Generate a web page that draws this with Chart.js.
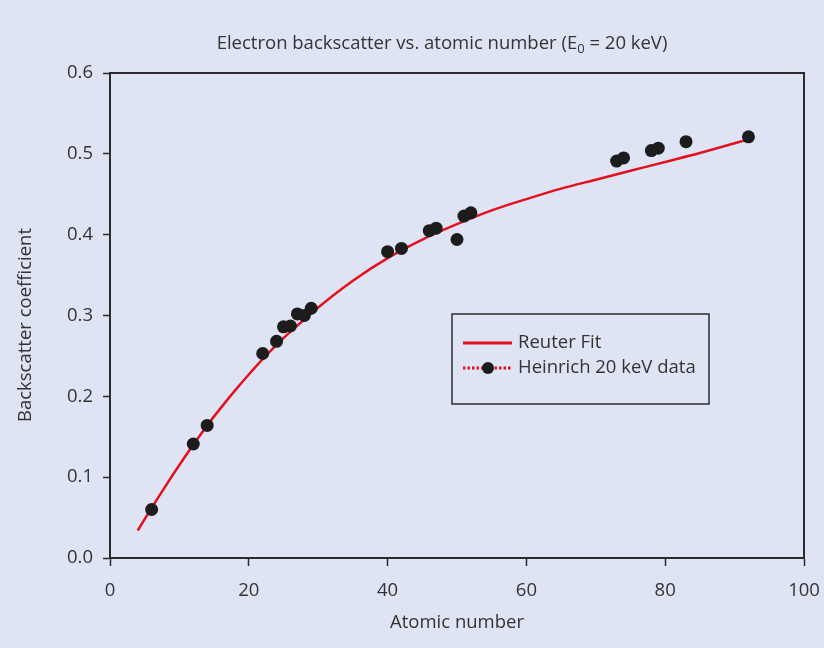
<!DOCTYPE html>
<html>
<head>
<meta charset="utf-8">
<title>Electron backscatter vs. atomic number</title>
<script src="https://cdn.jsdelivr.net/npm/chart.js@4/dist/chart.umd.min.js"></script>
<style>
  html, body { margin: 0; padding: 0; background: #dfe4f4; }
  #wrap { width: 824px; height: 648px; }
</style>
</head>
<body>
<div id="wrap"><canvas id="chart" width="824" height="648"></canvas></div>
<script>
// ── Data ─────────────────────────────────────────────────────
// Reuter fit curve
const fitZ   = [4, 6, 8, 10, 12, 14, 16, 18, 20, 22, 25, 28, 30, 35, 40, 45, 50, 55, 60, 65, 70, 75, 80, 85, 90, 92];
const fitEta = [0.034, 0.062, 0.089, 0.115, 0.140, 0.164, 0.186, 0.207, 0.227, 0.246, 0.272, 0.295, 0.310, 0.343,
                0.371, 0.394, 0.413, 0.430, 0.444, 0.457, 0.468, 0.479, 0.490, 0.501, 0.513, 0.518];

// Heinrich 20 keV measurements
const dataZ   = [6, 12, 14, 22, 24, 25, 26, 27, 28, 29, 40, 42, 46, 47, 50, 51, 52, 73, 74, 78, 79, 83, 92];
const dataEta = [0.060, 0.141, 0.164, 0.253, 0.268, 0.286, 0.287, 0.302, 0.300, 0.309, 0.379, 0.383, 0.405,
                 0.408, 0.394, 0.423, 0.427, 0.491, 0.495, 0.504, 0.507, 0.515, 0.521];

const xTicks = [0, 20, 40, 60, 80, 100];
const yTicks = [0, 0.1, 0.2, 0.3, 0.4, 0.5, 0.6];

const RED = '#e3111d';
const DOT = '#1c1c1c';
const INK = '#2b2b2b';
const TEXT = '#333333';
const FONT = "'Open Sans', sans-serif";
const FS = 18.5;

const zip = (xs, ys) => xs.map((x, i) => ({ x, y: ys[i] }));

// ── Title, y-axis title, frame and legend ────────────────────
const decorations = {
    id: 'decorations',
    afterDraw(chart) {
        const ctx = chart.ctx;
        const ca = chart.chartArea;
        ctx.save();

        // frame round the plot
        ctx.strokeStyle = INK;
        ctx.lineWidth = 2;
        ctx.strokeRect(ca.left, ca.top, ca.right - ca.left, ca.bottom - ca.top);

        // title with subscript
        ctx.fillStyle = TEXT;
        ctx.textBaseline = 'alphabetic';
        ctx.textAlign = 'left';
        const big = `${FS}px ${FONT}`, small = `${Math.round(FS * 0.72)}px ${FONT}`;
        const p1 = 'Electron backscatter vs. atomic number (E', p2 = '0', p3 = ' = 20 keV)';
        ctx.font = big;
        const w1 = ctx.measureText(p1).width, w3 = ctx.measureText(p3).width;
        ctx.font = small;
        const w2 = ctx.measureText(p2).width;
        let tx = 442 - (w1 + w2 + w3) / 2;
        const ty = 49;
        ctx.font = big;  ctx.fillText(p1, tx, ty); tx += w1;
        ctx.font = small; ctx.fillText(p2, tx, ty + 4); tx += w2;
        ctx.font = big;  ctx.fillText(p3, tx, ty);

        // y-axis title
        ctx.save();
        ctx.translate(26, 325);
        ctx.rotate(-Math.PI / 2);
        ctx.textAlign = 'center';
        ctx.textBaseline = 'middle';
        ctx.font = big;
        ctx.fillText('Backscatter coefficient', 0, 0);
        ctx.restore();

        // legend box
        const lx = ca.left + 342, ly = ca.top + 241;
        ctx.lineWidth = 1.5;
        ctx.strokeStyle = INK;
        ctx.strokeRect(lx, ly, 257, 90);

        ctx.strokeStyle = RED;
        ctx.lineWidth = 3;
        ctx.beginPath();
        ctx.moveTo(lx + 11, ly + 29); ctx.lineTo(lx + 60, ly + 29);
        ctx.stroke();

        ctx.setLineDash([2.5, 2]);
        ctx.beginPath();
        ctx.moveTo(lx + 11, ly + 54); ctx.lineTo(lx + 60, ly + 54);
        ctx.stroke();
        ctx.setLineDash([]);
        ctx.fillStyle = DOT;
        ctx.beginPath();
        ctx.arc(lx + 36, ly + 54, 6, 0, Math.PI * 2);
        ctx.fill();

        ctx.fillStyle = TEXT;
        ctx.textAlign = 'left';
        ctx.textBaseline = 'middle';
        ctx.font = big;
        ctx.fillText('Reuter Fit', lx + 66, ly + 29);
        ctx.fillText('Heinrich 20 keV data', lx + 66, ly + 54);

        ctx.restore();
    }
};

// ── Chart ────────────────────────────────────────────────────
new Chart(document.getElementById('chart'), {
    type: 'scatter',
    data: {
        datasets: [
            {
                label: 'Reuter Fit',
                data: zip(fitZ, fitEta),
                showLine: true,
                borderColor: RED,
                borderWidth: 2.5,
                pointRadius: 0,
                pointHoverRadius: 0,
                cubicInterpolationMode: 'monotone',
                order: 2
            },
            {
                label: 'Heinrich 20 keV data',
                data: zip(dataZ, dataEta),
                showLine: false,
                backgroundColor: DOT,
                borderWidth: 0,
                pointRadius: 6.5,
                order: 1
            }
        ]
    },
    options: {
        responsive: false,
        animation: false,
        layout: { padding: { top: 73, right: 20, left: 0, bottom: 0 } },
        plugins: {
            legend: { display: false },
            tooltip: { enabled: false }
        },
        scales: {
            x: {
                type: 'linear',
                min: xTicks[0], max: xTicks[xTicks.length - 1],
                afterBuildTicks: s => { s.ticks = xTicks.map(v => ({ value: v })); },
                afterFit: s => { s.height = 90; s.paddingLeft = 0; s.paddingRight = 0; },
                border: { display: true, color: INK, width: 2 },
                grid: { drawOnChartArea: false, drawTicks: true, tickLength: 8, color: INK, tickWidth: 1.5 },
                ticks: { color: TEXT, font: { family: FONT, size: FS }, padding: 14, maxRotation: 0 },
                title: {
                    display: true, text: 'Atomic number', color: TEXT,
                    font: { family: FONT, size: FS }, padding: { top: 0, bottom: 14 }
                }
            },
            y: {
                type: 'linear',
                min: yTicks[0], max: yTicks[yTicks.length - 1],
                afterBuildTicks: s => { s.ticks = yTicks.map(v => ({ value: v })); },
                afterFit: s => { s.width = 110; s.paddingTop = 0; s.paddingBottom = 0; },
                border: { display: true, color: INK, width: 2 },
                grid: { drawOnChartArea: false, drawTicks: true, tickLength: 7, color: INK, tickWidth: 1.5 },
                ticks: {
                    color: TEXT, font: { family: FONT, size: FS }, padding: 10,
                    callback: v => v.toFixed(1)
                }
            }
        }
    },
    plugins: [decorations]
});
</script>
</body>
</html>
